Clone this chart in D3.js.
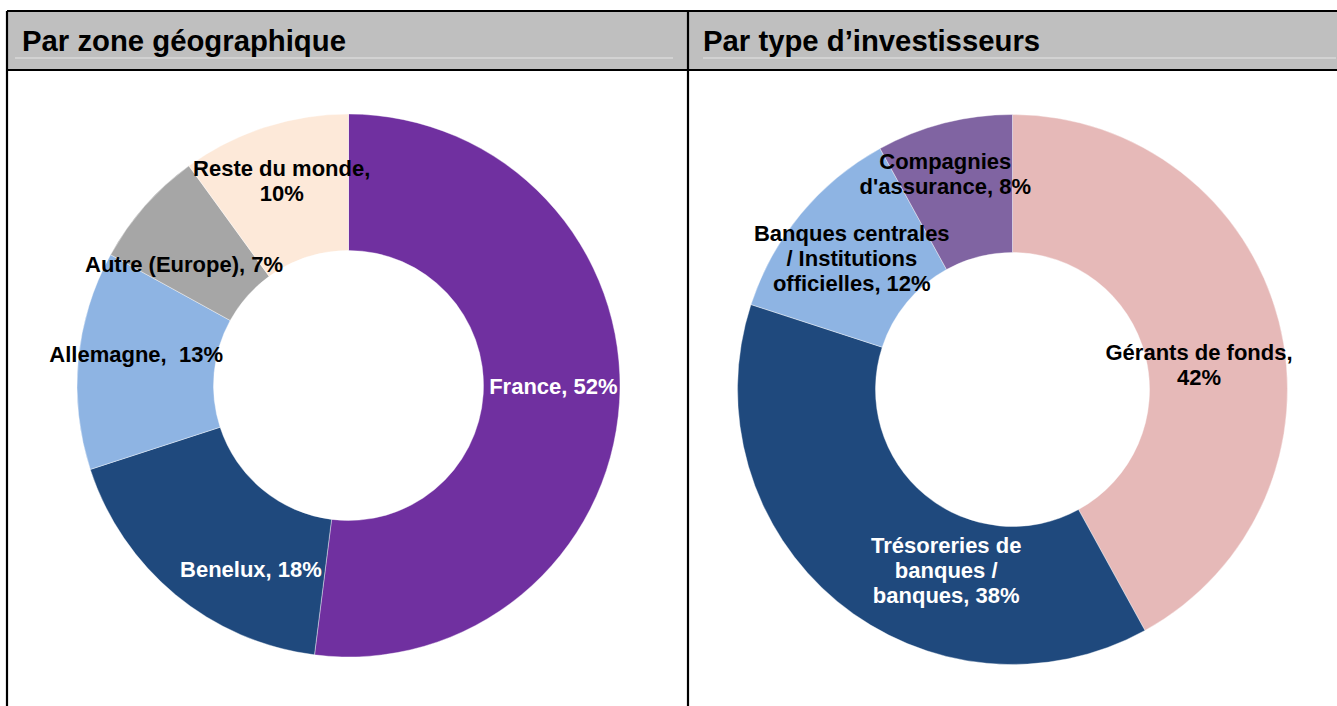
<!DOCTYPE html>
<html lang="fr">
<head>
    <meta charset="UTF-8">
    <title>Répartition des investisseurs</title>
    <script src="https://cdn.jsdelivr.net/npm/d3@7/dist/d3.min.js"></script>
    <style>
        body{
            margin: 0;
            background: white;
            font-family: "Liberation Sans", Arial, sans-serif;
        }
        .title{
            font-weight: bold;
            font-size: 29.3px;
        }
        .label{
            font-weight: bold;
            font-size: 22px;
        }
    </style>
</head>
<body>
<svg id="main" width="1337" height="706"></svg>
<script>
    // data
    const zoneNames = ['France, 52%', 'Benelux, 18%', 'Allemagne,  13%', 'Autre (Europe), 7%', 'Reste du monde,\n10%']
    const zoneValues = [52, 18, 13, 7, 10]
    const typeNames = ['Gérants de fonds,\n42%', 'Trésoreries de\nbanques /\nbanques, 38%', 'Banques centrales\n/ Institutions\nofficielles, 12%', 'Compagnies\nd\'assurance, 8%']
    const typeValues = [42, 38, 12, 8]

    const zoneColors = ['#7030a0', '#1f497d', '#8eb4e3', '#a6a6a6', '#fde9d9']
    const zoneText = ['white', 'white', 'black', 'black', 'black']
    const typeColors = ['#e6b9b8', '#1f497d', '#8eb4e3', '#8064a2']
    const typeText = ['black', 'white', 'black', 'black']

    const svg = d3.select('svg#main')

    // table frame
    const frameTop = 11, headBottom = 70, frameLeft = 7, mid = 688, frameRight = 1340
    svg.append('rect').attr('x', frameLeft).attr('y', frameTop).attr('width', frameRight - frameLeft).attr('height', headBottom - frameTop)
        .attr('fill', '#bfbfbf')
    svg.append('line').attr('x1', 15).attr('x2', 673).attr('y1', 58).attr('y2', 58).attr('stroke', '#d9d9d9').attr('stroke-width', 1.5)
    svg.append('line').attr('x1', 703).attr('x2', 1336).attr('y1', 58).attr('y2', 58).attr('stroke', '#d9d9d9').attr('stroke-width', 1.5)
    svg.append('text').attr('class', 'title').attr('x', 22).attr('y', 51).text('Par zone géographique')
    svg.append('text').attr('class', 'title').attr('x', 703).attr('y', 51).text('Par type d’investisseurs')

    const frame = svg.append('g').attr('stroke', 'black').attr('stroke-width', 2.2)
    frame.append('line').attr('x1', frameLeft).attr('x2', frameRight).attr('y1', frameTop).attr('y2', frameTop)
    frame.append('line').attr('x1', frameLeft).attr('x2', frameRight).attr('y1', headBottom).attr('y2', headBottom)
    frame.append('line').attr('x1', frameLeft).attr('x2', frameLeft).attr('y1', frameTop).attr('y2', 720)
    frame.append('line').attr('x1', mid).attr('x2', mid).attr('y1', frameTop).attr('y2', 720)

    // label nudges off the arc centroid
    const zoneNudge = [[2, -12], [32, 27], [-10, -12], [-12, 13], [-4, -12]]
    const typeNudge = [[-13, 26], [65, 22], [-2, 0], [-16, -16]]

    function donut(cx, cy, rOuter, rInner, names, values, colors, textColors, nudge){
        const pie = d3.pie().sort(null).value(d => d)
        const arcs = pie(values)
        const arc = d3.arc().innerRadius(rInner).outerRadius(rOuter)
        const g = svg.append('g').attr('transform', `translate(${cx},${cy})`)

        g.selectAll('path')
            .data(arcs)
            .enter()
            .append('path')
            .attr('d', arc)
            .attr('fill', (_, i) => colors[i])
            .attr('stroke', 'white')
            .attr('stroke-width', 0.4)

        const labels = g.selectAll('.label')
            .data(arcs)
            .enter()
            .append('text')
            .attr('class', 'label')
            .attr('text-anchor', 'middle')
            .attr('fill', (_, i) => textColors[i])
            .attr('transform', (d, i) => {
                const c = arc.centroid(d)
                return `translate(${c[0] + nudge[i][0]},${c[1] + nudge[i][1]})`
            })
        labels.each(function(d, i){
            const lines = names[i].split('\n')
            const lh = 25
            d3.select(this).selectAll('tspan')
                .data(lines)
                .enter()
                .append('tspan')
                .attr('x', 0)
                .attr('y', (_, j) => (j - (lines.length - 1) / 2) * lh)
                .attr('dy', '0.36em')
                .style('white-space', 'pre')
                .text(t => t)
        })
    }

    donut(348.5, 385.5, 271.5, 135, zoneNames, zoneValues, zoneColors, zoneText, zoneNudge)
    donut(1012.5, 389.5, 275, 137, typeNames, typeValues, typeColors, typeText, typeNudge)
</script>
</body>
</html>
